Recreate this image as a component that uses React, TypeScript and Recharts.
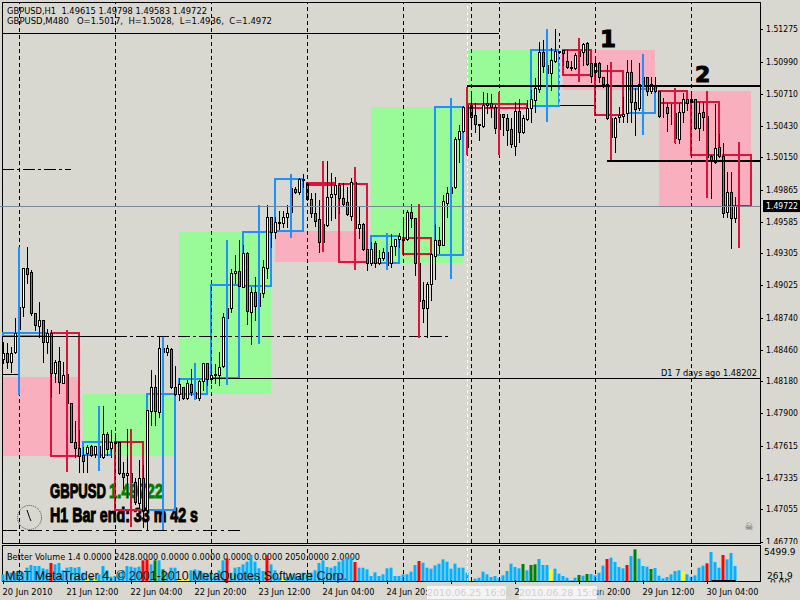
import { ComposedChart, Bar, Cell, XAxis, YAxis, ReferenceArea, ReferenceLine } from 'recharts';

// H1 quotes in points (1.48378 = 148378), one entry per bar
const opens = [
  148378,148431,148351,148439,148641,148834,149178,149142,148782,148667,
  148720,148526,148606,148255,148360,148167,148246,147991,147647,147595,
  147534,147552,147612,147543,147612,147516,147718,147595,147639,147647,
  147376,147358,147376,147296,147112,147332,147050,147920,148131,147911,
  148474,148439,148465,148131,148070,148131,148035,148158,148087,148035,
  148184,148343,148202,148237,148237,148316,148738,148826,149134,149151,
  149011,149310,148790,148966,148843,148958,149178,149625,149493,149572,
  149572,149625,149669,149872,149845,149951,149925,149784,149660,149608,
  149405,149555,149801,149828,149907,149793,149758,149634,149933,149529,
  149564,149345,149222,149397,149222,149266,149318,149222,149371,149432,
  149423,149432,149669,149617,149222,148896,148826,149037,149283,149423,
  149380,149749,149836,149889,150311,150381,150610,150610,150522,150434,
  150425,150628,150628,150592,150399,150531,150496,150399,150249,150557,
  150372,150487,150584,150654,150751,151076,150962,150892,150997,151076,
  151094,150997,150945,150936,151041,151076,151155,150980,150900,150980,
  150856,150795,150496,150328,150504,150513,150540,150900,150636,150584,
  150786,150856,150733,150777,150733,150592,150592,150540,150540,150311,
  150548,150663,150636,150663,150407,150548,150513,150162,150109,150240,
  150162,149669,149845,149615,
];
const highs = [
  148526,148518,148482,148738,148852,149178,149361,149160,148782,148878,
  148720,148641,148632,148369,148482,148351,148263,147991,147832,147753,
  147603,147621,147621,147612,147647,147964,147735,147753,147727,147647,
  147472,147762,147490,147332,147490,147446,147929,148281,148237,148570,
  148518,148500,148474,148316,148211,148131,148193,148290,148228,148193,
  148343,148343,148325,148334,148439,148782,149169,149169,149292,149423,
  149380,149318,149011,149098,149090,149248,149731,149625,149625,149678,
  149678,149731,149881,149889,149969,150004,149925,149836,149836,149775,
  149625,150118,150013,149978,149925,149925,149889,149969,150065,149713,
  149572,149345,149405,149414,149336,149353,149353,149476,149432,149485,
  149617,149687,149740,149617,149310,149054,149054,149310,149564,149538,
  149819,149889,150171,150328,150434,150601,150716,150716,150628,150443,
  150724,150716,150707,150610,150583,150531,150531,150496,150636,150663,
  150522,150654,150742,150848,151163,151181,151076,151111,151278,151243,
  151094,151094,150997,151067,151120,151155,151163,150980,151023,150988,
  150856,150962,150496,150504,150592,150680,151006,151006,150760,150980,
  150936,150856,150856,150856,150733,150672,150628,150619,150540,150628,
  150716,150663,150724,150663,150636,150636,150680,150171,150619,150355,
  150276,150021,150021,149798,
];
const lows = [
  148343,148299,148263,148431,148606,148755,149046,148764,148632,148570,
  148351,148431,148052,148175,148079,148167,147991,147647,147516,147384,
  147384,147384,147525,147516,147446,147508,147534,147516,147586,147367,
  147244,147164,147200,147103,147076,146900,146874,147797,147797,147867,
  148395,148413,148123,148061,148017,148026,148026,148061,148026,148017,
  148105,148149,148167,148167,148149,148307,148492,148790,149046,149019,
  149011,148685,148509,148720,148834,148923,149090,149361,149441,149520,
  149538,149538,149660,149836,149828,149889,149775,149625,149546,149318,
  149361,149546,149599,149617,149660,149731,149643,149599,149520,149441,
  149336,149160,149204,149186,149213,149248,149186,149186,149292,149361,
  149292,149423,149538,149116,148878,148702,148570,148896,149081,149310,
  149380,149625,149828,149881,150109,150372,150171,150416,150372,150302,
  150416,150539,150504,150364,150346,150346,150258,150240,150171,150285,
  150364,150478,150460,150548,150724,150900,150786,150742,150988,151023,
  150962,150936,150918,150927,150945,150962,150962,150812,150830,150812,
  150768,150487,150197,150197,150460,150460,150460,150460,150346,150566,
  150716,150698,150716,150724,150504,150504,150381,150443,150276,150276,
  150460,150566,150636,150399,150302,150390,150065,149793,150100,150153,
  149625,149625,149353,149583,
];
const closes = [
  148431,148351,148431,148606,148834,149178,149125,148782,148676,148720,
  148526,148606,148255,148351,148175,148237,147991,147647,147595,147525,
  147481,147603,147534,147612,147516,147718,147586,147647,147647,147376,
  147340,147376,147296,147120,147332,147050,147929,148131,147920,148474,
  148439,148474,148131,148070,148158,148035,148167,148087,148035,148184,
  148343,148202,148237,148246,148307,148746,148826,149134,149151,149019,
  149310,148799,148966,148843,148958,149186,149625,149493,149581,149581,
  149625,149660,149881,149845,149960,149960,149784,149660,149590,149405,
  149564,149801,149828,149907,149793,149740,149652,149933,149529,149564,
  149345,149222,149345,149222,149266,149318,149204,149371,149432,149458,
  149432,149669,149617,149222,148887,148826,149037,149301,149423,149380,
  149766,149836,149889,150311,150381,150592,150240,150504,150443,150443,
  150610,150610,150592,150407,150531,150504,150390,150267,150557,150372,
  150496,150584,150663,150760,151076,150953,150892,151006,151085,151085,
  151067,150945,150936,151050,151085,151146,150971,150865,150980,150856,
  150795,150496,150328,150496,150522,150531,150900,150636,150575,150795,
  150856,150733,150795,150733,150513,150592,150540,150540,150320,150548,
  150663,150628,150663,150407,150540,150504,150153,150118,150232,150162,
  149660,149845,149617,149722,
];

// Better Volume histogram
const volumes = [
  1260,1575,1575,1575,1764,1575,2520,3024,2835,2835,2394,2205,3402,3150,3402,2016,2520,2646,2520,2646,
  1575,630,945,504,1260,2835,2016,819,945,1575,2016,2835,2709,2520,2709,3906,4095,3150,3906,3906,
  2205,1575,2520,2520,504,315,504,2016,2205,2016,1575,1386,1575,1260,2016,3906,4284,1575,2520,2646,
  3150,3654,4914,3654,2394,1890,4914,3150,2016,630,504,756,1260,1260,945,1575,1260,1575,2016,3402,
  3906,2646,2520,2835,3654,4095,4536,4536,3591,2520,2520,2205,945,1638,945,1260,2394,2520,945,945,
  1260,1260,1764,3024,3780,3465,2520,2331,2961,3276,4095,3654,2331,3276,2520,2520,1575,126,441,630,
  1764,1260,756,945,504,1071,1890,3276,2646,2394,3213,2016,3024,3150,4158,3024,3024,2268,2331,1386,
  945,630,126,630,1134,1008,1323,1323,1071,1575,2898,4158,4410,3591,2646,2394,3024,4725,5985,4221,
  2835,2709,2268,2457,1008,504,756,1260,1890,2016,1764,1260,819,1071,2520,2898,3339,5481,3591,2520,
  4914,4095,5292,2835,
];
const redBars = [12,35,36,56,66,88,104,151,156,176,180];
const greenBars = [38,40,130,132,133,144,146,158,162];
const yellowBars = [21,23,44,45,46,70,117,137,170];

// M480 candles
const boxStart = [0,12,20,28,36,44,52,60,68,76,84,92,100,108,116,132,140,148,156,164,172,180];
const boxEnd = [11,19,27,35,43,51,59,67,75,83,91,99,107,115,131,139,147,155,163,171,179,187];
const boxOpen = [148579,148606,147534,147647,147050,148070,148211,149019,149502,149925,149916,149222,149441,149292,150619,150601,151094,150909,150540,150733,150636,150171];
const boxClose = [148606,147525,147647,147050,148070,148202,149028,149493,149960,149907,149230,149458,149301,150592,150584,151094,150874,150522,150751,150628,150171,149722];
const wickBar = [4,16,24,32,40,48,56,64,72,80,88,96,104,112,116,124,136,144,152,160,168,176,184];
const wickHigh = [149361,148632,147964,147762,148570,148343,149423,149731,150004,150118,150065,149485,149740,150672,150768,150724,151278,151199,150988,151058,150760,150733,150285];
const wickLow = [148061,147384,147393,146900,146874,148017,148149,148509,149441,149318,149160,149160,148561,149081,150171,150171,150460,150812,150127,150346,150276,149793,149353];
const wickUp = [1,0,1,0,1,1,1,1,1,0,0,1,0,1,0,0,1,0,0,1,0,0,0];

// D1 candle bodies
const dayStart = [0,20,44,68,92,116,140,164];
const dayEnd = [19,43,67,91,115,139,163,187];
const dayOpen = [148219,147525,148070,149502,149222,150601,151094,150733];
const dayClose = [147525,148070,149493,149230,150592,151094,150742,149722];

// trend lines
const lineStart = [-0.25,139.25,-0.25,-0.25,28,-0.25,52.25,0,116,151];
const lineEnd = [124,147.75,17,28,112,3.75,189.25,59.25,189.25,189.25];
const linePrice = [151243,150610,150039,148579,148579,148237,148202,146874,150777,150118];
const lineWidth = [1,1,1,1,1,1,1,1,2,2];
const lineDash = ['','','12 3 3 3','','12 3 3 3','','','14 4 3 4','',''];

const dashedBars = [4,28,52,76,100,117,124,148,172];
const currentPrice = 1.49722;

const priceTicks = [1.51275,1.5099,1.5071,1.5043,1.5015,1.49865,currentPrice,1.49585,1.49305,1.49025,1.4874,1.4846,1.4818,1.479,1.47615,1.47335,1.47055,1.4677];
const timeTickBars = [0,16,32,48,64,80,96,112,128,144,160,176];
const timeTickLabels = ['20 Jun 2010','21 Jun 12:00','22 Jun 04:00','22 Jun 20:00','23 Jun 12:00','24 Jun 04:00','24 Jun 20:00','25 Jun 12:00','28 Jun 04:00','28 Jun 20:00','29 Jun 12:00','30 Jun 04:00'];
const volumeTicks = [0,261.9,5499.9];

const px = (p: number) => p / 100000;
const candles = opens.map((o, i) => ({
  bar: i,
  open: px(o),
  close: px(closes[i]),
  range: [px(lows[i]), px(highs[i])],
}));
const volumeData = volumes.map((v, i) => ({ bar: i, volume: v }));

const FONT = '"DejaVu Sans", sans-serif';
const HEAVY = '"Liberation Sans Narrow", sans-serif';
const BG = '#D8D8D0';
const BLUE = '#1E90FF';
const RED = '#DC143C';
const AXIS_X = 760;

function Candle(props: any) {
  const { x, y, width, height, payload } = props;
  const cx = Math.round(x + width / 2) + 0.5;
  const hi = payload.range[1];
  const lo = payload.range[0];
  const k = hi > lo ? height / (hi - lo) : 0;
  const top = Math.max(payload.open, payload.close);
  const bot = Math.min(payload.open, payload.close);
  const yTop = Math.round(y + (hi - top) * k) + 0.5;
  const yBot = Math.round(y + (hi - bot) * k) + 0.5;
  const up = payload.close >= payload.open;
  return (
    <g>
      <line x1={cx} x2={cx} y1={Math.round(y)} y2={Math.round(y + height) + 1} stroke="#000" />
      <rect x={cx - 1} y={yTop} width={2} height={yBot - yTop} fill={up ? '#fff' : '#808080'} stroke="#000" />
    </g>
  );
}

function PriceTick(props: any) {
  const { y, payload } = props;
  const isCurrent = payload.value === currentPrice;
  return (
    <g>
      {isCurrent && <rect x={AXIS_X + 3} y={y - 6} width={37} height={12} fill="#000" />}
      {!isCurrent && <line x1={AXIS_X} x2={AXIS_X + 3} y1={Math.round(y) + 0.5} y2={Math.round(y) + 0.5} stroke="#000" />}
      <text x={AXIS_X + 6} y={y + 3} fontSize={9} fontFamily={FONT} fill={isCurrent ? '#fff' : '#000'} textLength={32} lengthAdjust="spacingAndGlyphs">
        {payload.value.toFixed(5)}
      </text>
    </g>
  );
}

function TimeTick(props: any) {
  const { x, payload } = props;
  const label = timeTickLabels[timeTickBars.indexOf(payload.value)];
  return (
    <g>
      <line x1={x} x2={x} y1={35} y2={39} stroke="#000" />
      <text x={x - 1} y={50} fontSize={9} fontFamily={FONT} fill="#000" textLength={payload.value === 0 ? 50 : 52} lengthAdjust="spacingAndGlyphs">
        {label}
      </text>
    </g>
  );
}

function VolumeTick(props: any) {
  const { y, payload } = props;
  if (payload.value === 0) {
    return (
      <g clipPath="url(#zero-clip)">
        <text x={AXIS_X + 10} y={y + 5} fontSize={9} fontFamily={FONT} fill="#000">0.00</text>
      </g>
    );
  }
  const big = payload.value === 5499.9;
  return (
    <text x={AXIS_X + (big ? 4 : 7)} y={y + (big ? 3 : -1)} fontSize={9} fontFamily={FONT} fill="#000">
      {payload.value.toFixed(1)}
    </text>
  );
}

function barColor(i: number) {
  if (redBars.includes(i)) return '#FF0000';
  if (greenBars.includes(i)) return '#008000';
  if (yellowBars.includes(i)) return '#FFFF00';
  return '#00B2FF';
}

function Overlay({ left, top, width, text }: { left: number; top: number; width: number; text: string }) {
  return (
    <div style={{ position: 'absolute', left, top, width, height: 13, background: '#F4F4F4', color: '#CFCFCF', font: `9.5px ${FONT}`, lineHeight: '13px', textAlign: 'center', whiteSpace: 'nowrap' }}>
      {text}
    </div>
  );
}

export default function App() {
  return (
    <div style={{ position: 'absolute', left: 0, top: 0, width: 800, height: 600, background: BG, overflow: 'hidden' }}>
      <div style={{ position: 'absolute', left: 2, top: 2, width: 757, height: 540, border: '1px solid #000' }} />
      <div style={{ position: 'absolute', left: 2, top: 545, width: 757, height: 35, border: '1px solid #000' }} />

      <div style={{ position: 'absolute', left: 0, top: 0 }}>
        <ComposedChart width={800} height={544} data={candles} margin={{ top: 3, right: 0, bottom: 1, left: 0 }}>
          <XAxis dataKey="bar" type="number" domain={[-0.75, 189.25]} hide />
          <YAxis orientation="right" width={40} domain={[1.4676, 1.51507]} ticks={priceTicks} interval={0} allowDataOverflow tick={<PriceTick />} tickLine={false} axisLine={false} />

          {dayStart.map((s, i) => (
            <ReferenceArea key={`day-${i}`} x1={s} x2={dayEnd[i]} y1={px(dayOpen[i])} y2={px(dayClose[i])}
              fill={dayClose[i] >= dayOpen[i] ? '#98FB98' : '#FAAFBE'} fillOpacity={1} stroke="none" />
          ))}

          <text x={7} y={14} fontSize={9.5} fontFamily={FONT} fill="#000" textLength={200} lengthAdjust="spacingAndGlyphs" style={{ whiteSpace: 'pre' }}>GBPUSD,H1  1.49615 1.49798 1.49583 1.49722</text>
          <text x={7} y={24} fontSize={9.5} fontFamily={FONT} fill="#000" textLength={265} lengthAdjust="spacingAndGlyphs" style={{ whiteSpace: 'pre' }}>GBPUSD,M480   O=1.5017,  H=1.5028,  L=1.4936,  C=1.4972</text>

          {dashedBars.map(b => (
            <ReferenceLine key={`v-${b}`} x={b} stroke="#000" strokeDasharray="4 3" shapeRendering="crispEdges" />
          ))}
          <ReferenceLine x={116} stroke="#fff" strokeDasharray="3 3" shapeRendering="crispEdges" />
          <ReferenceLine x={139} stroke={BG} strokeDasharray="3 3" shapeRendering="crispEdges" />
          <ReferenceLine y={currentPrice} stroke="#778899" shapeRendering="crispEdges" />

          {linePrice.map((p, i) => (
            <ReferenceLine key={`l-${i}`} stroke="#000" strokeWidth={lineWidth[i]} strokeDasharray={lineDash[i] || undefined} shapeRendering="crispEdges"
              segment={[{ x: lineStart[i], y: px(p) }, { x: lineEnd[i], y: px(p) }]} />
          ))}

          {boxStart.map((s, i) => (
            <ReferenceArea key={`box-${i}`} x1={s} x2={boxEnd[i]} y1={px(boxOpen[i])} y2={px(boxClose[i])}
              fill="none" stroke={boxClose[i] >= boxOpen[i] ? BLUE : RED} strokeWidth={2} shapeRendering="crispEdges" />
          ))}
          {wickBar.map((b, i) => (
            <ReferenceLine key={`wick-${i}`} stroke={wickUp[i] ? BLUE : RED} strokeWidth={2} shapeRendering="crispEdges"
              segment={[{ x: b, y: px(wickHigh[i]) }, { x: b, y: px(wickLow[i]) }]} />
          ))}

          <text x={50} y={498} fontSize={20} fontWeight={700} fontFamily={HEAVY} stroke="#000" strokeWidth={1} fill="#000" textLength={56} lengthAdjust="spacingAndGlyphs">GBPUSD</text>
          <text x={109} y={498} fontSize={20} fontWeight={700} fontFamily={HEAVY} stroke="#008000" strokeWidth={1} fill="#008000" textLength={54} lengthAdjust="spacingAndGlyphs">1.49722</text>
          <text x={50} y={522} fontSize={20} fontWeight={700} fontFamily={HEAVY} stroke="#000" strokeWidth={1} fill="#000" textLength={148} lengthAdjust="spacingAndGlyphs">H1 Bar end: 33 m 42 s</text>
          <g>
            <circle cx={29.5} cy={517.5} r={12} fill={BG} stroke="#444" strokeDasharray="1 1" />
            <line x1={29.5} y1={517.5} x2={27} y2={510} stroke="#000" />
            <line x1={29.5} y1={517.5} x2={31} y2={521} stroke="#000" />
          </g>

          <text x={600} y={47} fontSize={23} fontWeight={700} fontFamily={FONT} stroke="#000" strokeWidth={1} fill="#000">1</text>
          <text x={695} y={82} fontSize={22} fontWeight={700} fontFamily={FONT} stroke="#000" strokeWidth={1} fill="#000">2</text>
          <text x={757} y={376} textAnchor="end" fontSize={9.5} fontFamily={FONT} fill="#000" textLength={96} lengthAdjust="spacingAndGlyphs">D1 7 days ago 1.48202</text>
          <text x={749} y={530} textAnchor="middle" fontSize={10} fontFamily={FONT} fill="#555">☠</text>

          <Bar dataKey="range" barSize={3} shape={<Candle />} isAnimationActive={false} />
        </ComposedChart>
      </div>

      <div style={{ position: 'absolute', left: 0, top: 545 }}>
        <ComposedChart width={800} height={55} data={volumeData} margin={{ top: 0, right: 0, bottom: 0, left: 0 }}>
          <defs>
            <clipPath id="zero-clip">
              <rect x={760} y={34} width={40} height={3.5} />
            </clipPath>
          </defs>
          <XAxis dataKey="bar" type="number" domain={[-0.875, 189.125]} ticks={timeTickBars} interval={0} height={19} tick={<TimeTick />} tickLine={false} axisLine={false} />
          <YAxis orientation="right" width={40} domain={[0, 6804]} ticks={volumeTicks} interval={0} tick={<VolumeTick />} tickLine={false} axisLine={false} />
          {dashedBars.map(b => (
            <ReferenceLine key={`sv-${b}`} x={b} stroke="#000" strokeDasharray="4 3" shapeRendering="crispEdges" />
          ))}
          <ReferenceLine x={116} stroke="#fff" strokeDasharray="3 3" shapeRendering="crispEdges" />
          <Bar dataKey="volume" barSize={3} isAnimationActive={false}>
            {volumeData.map((d, i) => (
              <Cell key={`vol-${i}`} fill={barColor(i)} />
            ))}
          </Bar>
          <ReferenceLine stroke="#000" strokeWidth={2} segment={[{ x: 177, y: 0 }, { x: 183, y: 0 }]} />
          <text x={7} y={15} fontSize={9.5} fontFamily={FONT} fill="#000" textLength={353} lengthAdjust="spacingAndGlyphs">Better Volume 1.4 0.0000 2428.0000 0.0000 0.0000 0.0000 0.0000 2050.0000 2.0000</text>
        </ComposedChart>
      </div>

      <svg width={800} height={600} style={{ position: 'absolute', left: 0, top: 0, pointerEvents: 'none' }}>
        <text x={5} y={580} fontSize={13} fontFamily='"Liberation Sans", sans-serif' fill="#111" textLength={342} lengthAdjust="spacingAndGlyphs">MBT MetaTrader 4, © 2001-2010 MetaQuotes Software Corp.</text>
      </svg>

      <Overlay left={427} top={586} width={79} text="2010.06.25 16:00" />
      <Overlay left={519} top={586} width={78} text="2010.06.28 15:00" />
    </div>
  );
}
